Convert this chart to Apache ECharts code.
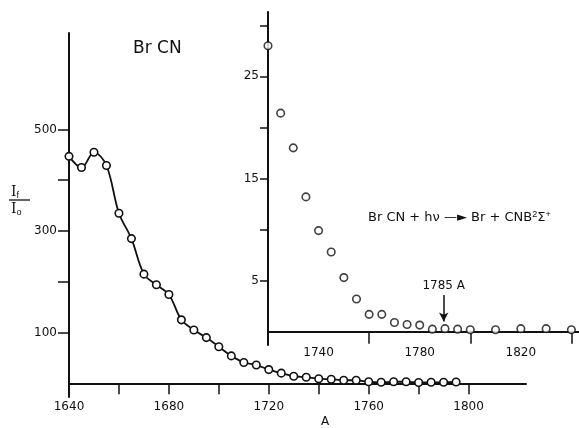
<!DOCTYPE html>
<html>
<head>
<meta charset="utf-8">
<script src="https://cdn.jsdelivr.net/npm/echarts@6/dist/echarts.min.js"></script>
<style>
  html, body { margin: 0; padding: 0; background: #fff; }
  #chart { width: 579px; height: 428px; }
</style>
</head>
<body>
<div id="chart"></div>
<script>
// main spectrum: wavelength (A) vs If/Io
const mainWave = [1640, 1645, 1650, 1655, 1660, 1665, 1670, 1675, 1680, 1685, 1690, 1695, 1700, 1705, 1710, 1715,
  1720, 1725, 1730, 1735, 1740, 1745, 1750, 1755, 1760, 1765, 1770, 1775, 1780, 1785, 1790, 1795]
const mainRatio = [447, 425, 455, 429, 335, 285, 215, 194, 175, 125, 105, 90, 72, 54, 41, 36,
  27, 20, 14, 12, 9, 8, 6, 6, 3, 2, 3, 3, 1.5, 2, 2, 2.5]

// inset: expanded tail
const insetWave = [1720, 1725, 1730, 1735, 1740, 1745, 1750, 1755, 1760, 1765, 1770, 1775, 1780, 1785, 1790, 1795,
  1800, 1810, 1820, 1830, 1840]
const insetRatio = [28.0, 21.4, 18.0, 13.2, 9.9, 7.8, 5.3, 3.2, 1.7, 1.7, 0.9, 0.7, 0.65, 0.25, 0.3, 0.25,
  0.2, 0.2, 0.3, 0.3, 0.2]

const mainXTicks = [1640, 1660, 1680, 1700, 1720, 1740, 1760, 1780, 1800]
const mainXLabels = [1640, 1680, 1720, 1760, 1800]
const mainYTicks = [100, 200, 300, 400, 500]
const mainYLabels = [100, 300, 500]
const insetXTicks = [1760, 1800, 1840]
const insetXLabels = [1740, 1780, 1820]
const insetYTicks = [5, 10, 15, 20, 25, 30]
const insetYLabels = [5, 15, 25]

const ink = '#111'
const font = 'DejaVu Sans'
const circle = { color: '#fff', borderColor: ink, borderWidth: 1.6 }
const plain = v => String(v)

const c = echarts.init(document.getElementById('chart'))
c.setOption({
  animation: false,
  textStyle: { fontFamily: font, color: ink },
  grid: [
    { left: 69, right: 53, top: 33, bottom: 31 },
    { left: 268, right: 0, top: 12, bottom: 83 },
  ],
  xAxis: [
    {
      type: 'value', gridIndex: 0, min: 1640, max: 1823,
      axisLine: { onZero: true, lineStyle: { color: ink, width: 2 } },
      axisTick: { length: 11, customValues: mainXTicks, lineStyle: { color: ink, width: 1.5 } },
      axisLabel: { customValues: mainXLabels, formatter: plain, margin: 4, fontSize: 12, color: ink, fontFamily: font },
      splitLine: { show: false },
    },
    {
      type: 'value', gridIndex: 1, min: 1720, max: 1843,
      axisLine: { onZero: true, lineStyle: { color: ink, width: 2 } },
      axisTick: { length: 12, customValues: insetXTicks, lineStyle: { color: ink, width: 1.5 } },
      axisLabel: { customValues: insetXLabels, formatter: plain, margin: 2, fontSize: 12, color: ink, fontFamily: font },
      splitLine: { show: false },
    },
  ],
  yAxis: [
    {
      type: 'value', gridIndex: 0, min: -27, max: 690,
      axisLine: { show: true, lineStyle: { color: ink, width: 2 } },
      axisTick: { show: true, length: 11, customValues: mainYTicks, lineStyle: { color: ink, width: 1.5 } },
      axisLabel: { customValues: mainYLabels, formatter: plain, margin: 12, fontSize: 12, color: ink, fontFamily: font },
      splitLine: { show: false },
    },
    {
      type: 'value', gridIndex: 1, min: -1.3, max: 31.3,
      axisLine: { show: true, lineStyle: { color: ink, width: 2 } },
      axisTick: { show: true, length: 8, customValues: insetYTicks, lineStyle: { color: ink, width: 1.5 } },
      axisLabel: { customValues: insetYLabels, formatter: plain, margin: 9, fontSize: 12, color: ink, fontFamily: font },
      splitLine: { show: false },
    },
  ],
  series: [
    {
      type: 'line', xAxisIndex: 0, yAxisIndex: 0,
      data: mainWave.map((w, i) => [w, mainRatio[i]]),
      smooth: 0.35,
      symbol: 'circle', symbolSize: 7.5, showAllSymbol: true,
      lineStyle: { color: ink, width: 1.8 },
      itemStyle: circle,
      z: 3,
    },
    {
      type: 'scatter', xAxisIndex: 1, yAxisIndex: 1,
      data: insetWave.map((w, i) => [w, insetRatio[i]]),
      symbol: 'circle', symbolSize: 7.5,
      itemStyle: circle,
      markLine: {
        silent: true,
        symbol: ['none', 'arrow'], symbolSize: [7, 9],
        lineStyle: { color: ink, width: 1.5, type: 'solid' },
        label: { show: true, position: 'start', formatter: '1785 A', fontSize: 12, color: ink, fontFamily: font, distance: 3 },
        data: [[{ coord: [1789.5, 3.6] }, { coord: [1789.5, 1.0] }]],
      },
      z: 3,
    },
  ],
  graphic: [
    { type: 'text', left: 133, top: 40, style: { text: 'Br CN', font: '17px DejaVu Sans', fill: ink } },
    { type: 'text', left: 321, top: 416, style: { text: 'A', font: '12px DejaVu Sans', fill: ink } },
    {
      type: 'text', left: 368, top: 210,
      style: {
        text: 'Br CN + h\u03bd \u2014\u25ba Br + CNB{s|2}\u03a3{s|+}',
        font: '13px DejaVu Sans', fill: ink,
        rich: { s: { fontSize: 9, verticalAlign: 'top', padding: [0, 0, 6, 0], fill: ink } },
      },
    },
    { type: 'text', left: 11, top: 185, style: { text: 'I{s|f}', font: '14px DejaVu Serif', fill: ink, rich: { s: { fontSize: 9, padding: [7, 0, 0, 0], fill: ink } } } },
    { type: 'line', shape: { x1: 9, y1: 200, x2: 30, y2: 200 }, style: { stroke: ink, lineWidth: 1.3 } },
    { type: 'text', left: 11, top: 202, style: { text: 'I{s|o}', font: '14px DejaVu Serif', fill: ink, rich: { s: { fontSize: 9, padding: [7, 0, 0, 0], fill: ink } } } },
  ],
})
</script>
</body>
</html>
